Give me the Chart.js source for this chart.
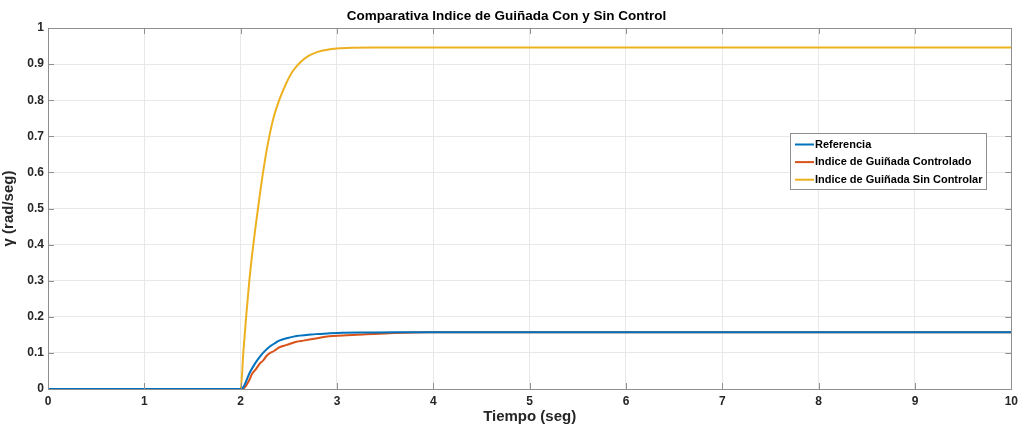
<!DOCTYPE html>
<html>
<head>
<meta charset="utf-8">
<script src="https://cdn.jsdelivr.net/npm/chart.js@4"></script>
<style>
    html, body { margin: 0; padding: 0; background: #fff; }
    #wrap { width: 1023px; height: 430px; }
</style>
</head>
<body>
<div id="wrap"><canvas id="grafico" width="1023" height="430"></canvas></div>
<script>
// Tiempo (seg) y valores
const tiempoRef = [0, 2, 2.03, 2.09, 2.15, 2.2, 2.25, 2.3, 2.35, 2.4, 2.5, 2.58, 2.7, 2.78, 2.9, 3.06, 3.3, 3.6, 10];
const referencia = [0, 0, 0.006, 0.043, 0.071, 0.09, 0.105, 0.117, 0.126, 0.134, 0.142, 0.147, 0.150, 0.152, 0.154, 0.156, 0.1565, 0.157, 0.157];

const tiempoCtrl = [0, 2, 2.04, 2.09, 2.12, 2.15, 2.2, 2.23, 2.27, 2.3, 2.35, 2.4, 2.45, 2.5, 2.58, 2.65, 2.78, 2.92, 3.06, 3.3, 3.5, 3.96, 10];
const controlado = [0, 0, 0.004, 0.025, 0.043, 0.052, 0.071, 0.078, 0.092, 0.099, 0.106, 0.115, 0.120, 0.124, 0.131, 0.134, 0.140, 0.146, 0.148, 0.152, 0.154, 0.157, 0.157];

const tiempoSin = [0, 2, 2.03, 2.06, 2.09, 2.12, 2.15, 2.18, 2.21, 2.25, 2.29, 2.34, 2.4, 2.47, 2.54, 2.62, 2.7, 2.8, 2.9, 3.0, 3.15, 3.4, 10];
const sinControl = [0, 0, 0.11, 0.21, 0.30, 0.375, 0.44, 0.50, 0.56, 0.63, 0.69, 0.75, 0.80, 0.845, 0.88, 0.905, 0.922, 0.934, 0.94, 0.943, 0.945, 0.946, 0.946];

const etiquetas = ['Referencia', 'Indice de Guiñada Controlado', 'Indice de Guiñada Sin Controlar'];
const colores = ['#0072BD', '#D95319', '#EDB120'];

function puntos(xs, ys) {
    return xs.map((x, i) => ({ x: x, y: ys[i] }));
}

// Caja del eje y marcas hacia adentro (estilo MATLAB)
const cajaPlugin = {
    id: 'caja',
    afterDatasetsDraw(chart) {
        const { ctx, chartArea: a, scales } = chart;
        ctx.save();
        ctx.strokeStyle = '#8f8f8f';
        ctx.lineWidth = 1;
        ctx.beginPath();
        scales.x.ticks.forEach(t => {
            const px = Math.round(scales.x.getPixelForValue(t.value)) + 0.5;
            ctx.moveTo(px, a.bottom); ctx.lineTo(px, a.bottom - 6);
            ctx.moveTo(px, a.top); ctx.lineTo(px, a.top + 6);
        });
        scales.y.ticks.forEach(t => {
            const py = Math.round(scales.y.getPixelForValue(t.value)) + 0.5;
            ctx.moveTo(a.left, py); ctx.lineTo(a.left + 6, py);
            ctx.moveTo(a.right, py); ctx.lineTo(a.right - 6, py);
        });
        ctx.stroke();
        ctx.strokeRect(Math.round(a.left) + 0.5, Math.round(a.top) + 0.5,
            Math.round(a.right - a.left), Math.round(a.bottom - a.top));
        ctx.restore();
    }
};

// Leyenda dentro del área del gráfico
const leyendaPlugin = {
    id: 'leyendaInterna',
    afterDraw(chart) {
        const ctx = chart.ctx;
        const x = 790, y = 133, w = 196, h = 56;
        ctx.save();
        ctx.fillStyle = '#fff';
        ctx.fillRect(x, y, w, h);
        ctx.strokeStyle = '#8f8f8f';
        ctx.lineWidth = 1;
        ctx.strokeRect(x + 0.5, y + 0.5, w, h);
        ctx.font = 'bold 11px "Liberation Sans", Arial, sans-serif';
        ctx.textBaseline = 'middle';
        chart.data.datasets.forEach((ds, i) => {
            const yy = y + 11.5 + i * 17.6;
            ctx.strokeStyle = ds.borderColor;
            ctx.lineWidth = 2;
            ctx.beginPath();
            ctx.moveTo(x + 5, yy);
            ctx.lineTo(x + 24, yy);
            ctx.stroke();
            ctx.fillStyle = '#000';
            ctx.fillText(ds.label, x + 25, yy);
        });
        ctx.restore();
    }
};

const fuente = '"Liberation Sans", Arial, sans-serif';

new Chart(document.getElementById('grafico').getContext('2d'), {
    type: 'line',
    data: {
        datasets: [
            { label: etiquetas[0], data: puntos(tiempoRef, referencia), borderColor: colores[0] },
            { label: etiquetas[1], data: puntos(tiempoCtrl, controlado), borderColor: colores[1] },
            { label: etiquetas[2], data: puntos(tiempoSin, sinControl), borderColor: colores[2] },
        ],
    },
    options: {
        responsive: false,
        animation: false,
        layout: { padding: { left: 0, right: 10, top: 0, bottom: 0 } },
        elements: {
            point: { radius: 0 },
            line: { borderWidth: 2, tension: 0.4, cubicInterpolationMode: 'monotone', fill: false },
        },
        plugins: {
            legend: { display: false },
            tooltip: { enabled: false },
            title: {
                display: true,
                text: 'Comparativa Indice de Guiñada Con y Sin Control',
                color: '#000',
                font: { family: fuente, size: 13.5, weight: 'bold' },
                padding: { top: 8, bottom: 3.8 },
            },
        },
        scales: {
            x: {
                type: 'linear',
                min: 0, max: 10,
                afterFit: s => { s.height = 41; },
                ticks: { stepSize: 1, color: '#262626', font: { family: fuente, size: 12, weight: 'bold' }, padding: 5 },
                grid: { color: '#e8e8e8', drawTicks: false },
                border: { display: false },
                title: { display: true, text: 'Tiempo (seg)', color: '#262626', font: { family: fuente, size: 15, weight: 'bold' }, padding: { top: 3 } },
            },
            y: {
                min: 0, max: 1,
                afterFit: s => { s.width = 48; },
                ticks: {
                    stepSize: 0.1, color: '#262626', padding: 4,
                    font: { family: fuente, size: 12, weight: 'bold' },
                    callback: v => String(Math.round(v * 10) / 10),
                },
                grid: { color: '#e8e8e8', drawTicks: false },
                border: { display: false },
                title: { display: true, text: 'γ (rad/seg)', color: '#262626', font: { family: fuente, size: 15, weight: 'bold' }, padding: { top: 0, bottom: -1 } },
            },
        },
    },
    plugins: [cajaPlugin, leyendaPlugin],
});
</script>
</body>
</html>
